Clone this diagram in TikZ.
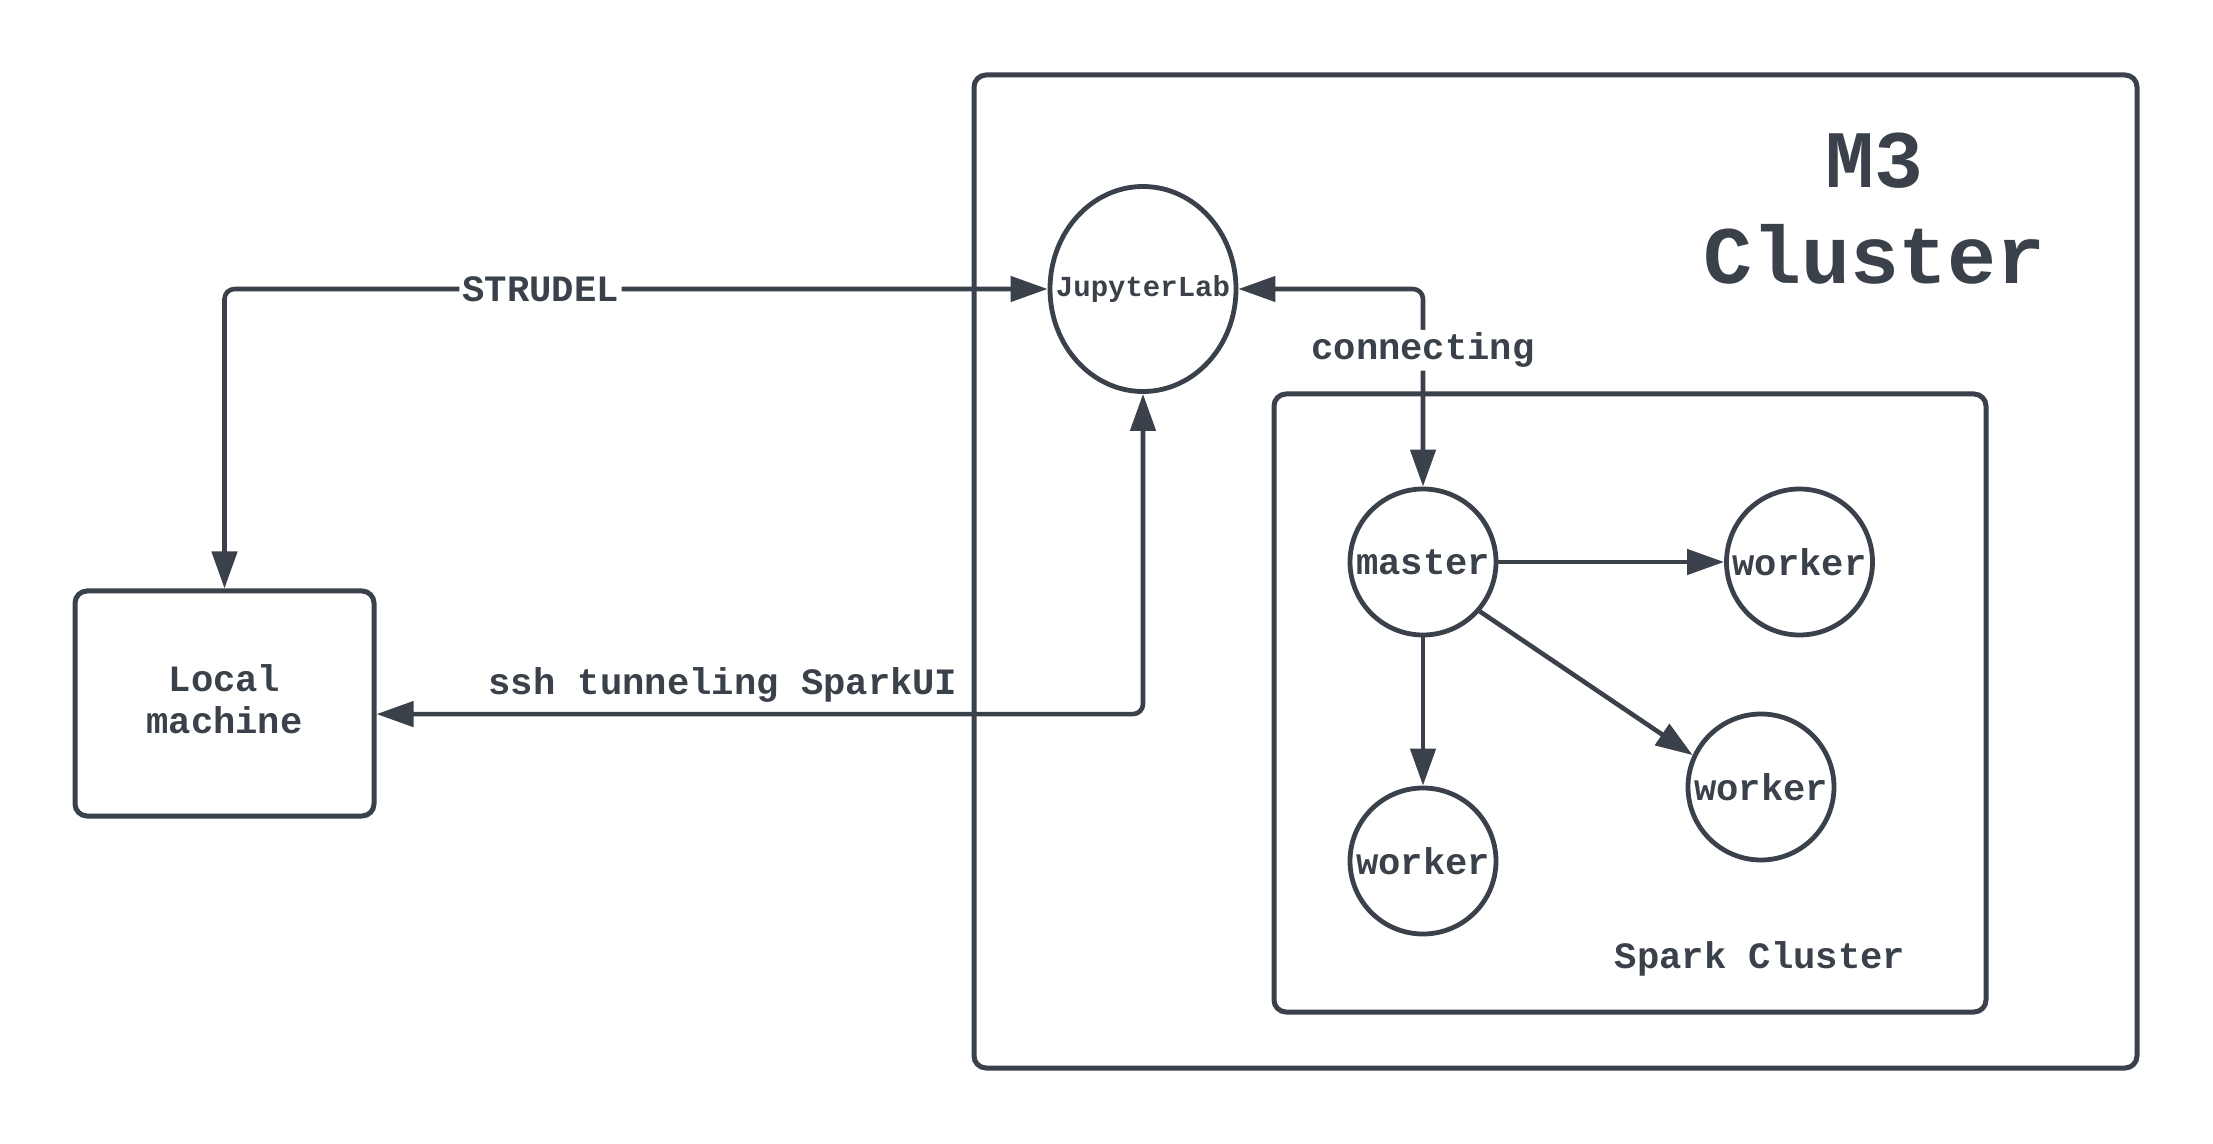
\documentclass[tikz,border=0pt]{standalone}
\usepackage{fontspec}
\setmonofont{Liberation Mono}
\usetikzlibrary{arrows.meta,shapes.geometric,calc}
\definecolor{ink}{HTML}{3A414A}
\begin{document}
\begin{tikzpicture}[x=0.5pt,y=-0.5pt,
  every node/.style={text=ink},
  txt/.style={font=\ttfamily\bfseries\fontsize{18.6}{21}\selectfont, align=center},
  frame/.style={draw=ink, line width=2.5pt, rounded corners=6pt, inner sep=0pt},
  circ/.style={draw=ink, circle, line width=2.4pt, minimum size=73pt, inner sep=0pt, txt},
  conn/.style={draw=ink, line width=2.3pt, rounded corners=5pt},
  tipone/.style={-{Triangle[length=18.5pt,width=12.5pt]}},
  tiptwo/.style={{Triangle[length=18.5pt,width=12.5pt]}-{Triangle[length=18.5pt,width=12.5pt]}},
  lbl/.style={txt, fill=white, inner sep=1.5pt}]
\useasboundingbox (0,0) rectangle (2213,1144);

% containers
\node[frame, minimum width=581.5pt, minimum height=496.5pt] (m3) at (1555.5,571.5) {};
\node[frame, minimum width=356pt, minimum height=309pt] (spark) at (1630,703) {};
\node[font=\ttfamily\bfseries\fontsize{40.8}{48}\selectfont, align=center] (m3title) at (1874.5,209) {M3\\Cluster};
\node[txt] (sparktitle) at (1760,959) {Spark Cluster};

% local machine
\node[frame, minimum width=149.5pt, minimum height=112.5pt] (local) at (224.5,703.5) {};
\node[txt] (localtext) at (224.5,699.3) {Local\\machine};

% JupyterLab
\node[draw=ink, ellipse, line width=2.4pt, minimum width=93pt, minimum height=102.5pt, inner sep=0pt] (jup) at (1143,289) {};
\node[font=\ttfamily\bfseries\fontsize{14.5}{17}\selectfont] (juptext) at (jup.center) {JupyterLab};

% spark nodes
\node[circ] (master) at (1423,562) {master};
\node[circ] (w1) at (1799.5,562) {worker};
\node[circ] (w2) at (1761,787) {worker};
\node[circ] (w3) at (1423,861) {worker};

% connectors
\draw[conn, tiptwo] (local.north) |- node[lbl, pos=0.692] (strudel) {STRUDEL} (jup.west);
\coordinate (localin) at ($(local.north east)!0.546!(local.south east)$);
\draw[conn, tiptwo] (jup.south) |- node[txt, pos=0.774, yshift=14.5pt] (ssh) {ssh tunneling SparkUI} (localin);
\draw[conn, tiptwo] (jup.east) -| node[lbl, pos=0.655] (connecting) {connecting} (master.north);

\draw[conn, tipone] (master) -- (w1);
\draw[conn, tipone] (master) -- (w3);
\draw[conn, tipone] (master.-41) -- (w2.155);
\end{tikzpicture}
\end{document}
